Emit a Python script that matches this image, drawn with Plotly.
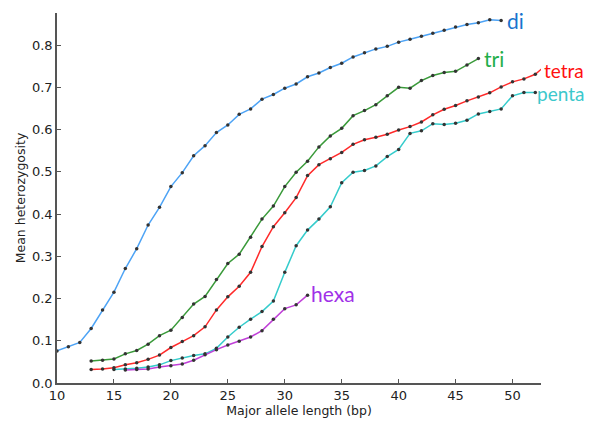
import plotly.graph_objects as go

di_x = list(range(10, 50))
di_y = [0.076, 0.086, 0.096, 0.129, 0.173, 0.215, 0.271, 0.318, 0.374, 0.416,
        0.465, 0.498, 0.538, 0.562, 0.593, 0.611, 0.636, 0.649, 0.672, 0.683,
        0.698, 0.708, 0.725, 0.734, 0.747, 0.757, 0.772, 0.782, 0.791, 0.797,
        0.807, 0.814, 0.821, 0.828, 0.835, 0.843, 0.849, 0.853, 0.860, 0.858]

tri_x = list(range(13, 48))
tri_y = [0.052, 0.054, 0.057, 0.069, 0.077, 0.092, 0.112, 0.125, 0.155, 0.187,
         0.205, 0.245, 0.283, 0.305, 0.345, 0.388, 0.419, 0.465, 0.499, 0.525,
         0.559, 0.585, 0.603, 0.633, 0.645, 0.659, 0.680, 0.700, 0.698, 0.716,
         0.728, 0.735, 0.738, 0.753, 0.768]

tetra_x = list(range(13, 54))
tetra_y = [0.032, 0.033, 0.036, 0.043, 0.048, 0.056, 0.066, 0.084, 0.098, 0.112,
           0.133, 0.173, 0.204, 0.229, 0.262, 0.323, 0.370, 0.403, 0.439, 0.491,
           0.517, 0.531, 0.546, 0.565, 0.576, 0.582, 0.589, 0.599, 0.607, 0.618,
           0.635, 0.648, 0.657, 0.668, 0.677, 0.687, 0.701, 0.713, 0.720, 0.731,
           0.754]

penta_x = list(range(15, 53))
penta_y = [0.032, 0.033, 0.035, 0.038, 0.043, 0.053, 0.059, 0.065, 0.069, 0.082,
           0.109, 0.132, 0.151, 0.169, 0.194, 0.262, 0.325, 0.362, 0.388, 0.417,
           0.474, 0.499, 0.503, 0.514, 0.536, 0.553, 0.591, 0.597, 0.614, 0.612,
           0.615, 0.622, 0.637, 0.643, 0.649, 0.680, 0.688, 0.688]

hexa_x = list(range(16, 33))
hexa_y = [0.031, 0.032, 0.033, 0.038, 0.041, 0.045, 0.054, 0.067, 0.079, 0.090,
          0.099, 0.109, 0.124, 0.151, 0.176, 0.185, 0.208]

series = [
    ("di", di_x, di_y, "#4da3f5", "#1874cd", 49.3, 0.858, 0, 21),
    ("tri", tri_x, tri_y, "#3a9a3a", "#1fae4a", 47.3, 0.769, 0, 21),
    ("tetra", tetra_x, tetra_y, "#ff2a2a", "#ff1010", 52.5, 0.741, 1, 19),
    ("penta", penta_x, penta_y, "#35cccc", "#3cc8cc", 51.95, 0.686, 0, 19),
    ("hexa", hexa_x, hexa_y, "#c040d8", "#a030e8", 32.1, 0.213, 0, 21),
]

fig = go.Figure()
annotations = []
for name, xs, ys, lc, tc, ax, ay, xs_shift, fs in series:
    fig.add_trace(go.Scatter(
        x=xs, y=ys, mode="lines+markers", name=name,
        line=dict(color=lc, width=1.5),
        marker=dict(color="#333333", size=3.5),
        showlegend=False,
    ))
    annotations.append(dict(
        x=ax, y=ay, xref="x", yref="y", text=name, showarrow=False,
        xanchor="left", yanchor="middle", xshift=xs_shift,
        font=dict(family="Lato, sans-serif", size=fs, color=tc),
    ))

axis_common = dict(
    showgrid=False, zeroline=False, showline=True, linecolor="#555555", linewidth=1.5,
    ticks="inside", ticklen=4, tickwidth=1, tickcolor="#555555",
    tickfont=dict(family="DejaVu Sans", size=13, color="#222222"),
)

fig.update_layout(
    width=584, height=413,
    margin=dict(l=49, r=51, t=5, b=38),
    paper_bgcolor="white", plot_bgcolor="white",
    xaxis=dict(range=[10, 52.5], tickvals=[10, 15, 20, 25, 30, 35, 40, 45, 50],
               title=dict(text="Major allele length (bp)", standoff=2,
                          font=dict(family="DejaVu Sans", size=12.5, color="#222222")),
               **axis_common),
    yaxis=dict(range=[0, 0.876], tickvals=[0, 0.1, 0.2, 0.3, 0.4, 0.5, 0.6, 0.7, 0.8],
               tickformat=".1f",
               title=dict(text="Mean heterozygosity", standoff=4,
                          font=dict(family="DejaVu Sans", size=12.5, color="#222222")),
               **axis_common),
    annotations=annotations,
)

fig.write_html("out.html")
